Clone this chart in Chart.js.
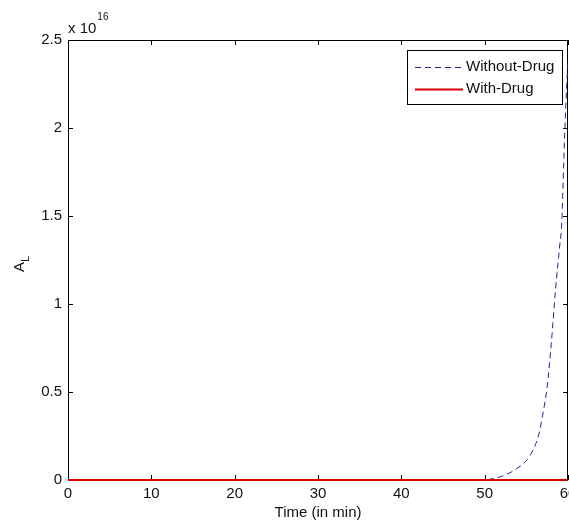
<!DOCTYPE html>
<html>
<head>
<meta charset="utf-8">
<script src="https://cdn.jsdelivr.net/npm/chart.js@4/dist/chart.umd.min.js"></script>
<style>
  html, body { margin: 0; padding: 0; background: #ffffff; }
  canvas { display: block; }
</style>
</head>
<body>
<canvas id="c" width="569" height="527"></canvas>
<script>
// ---- data (values in units of 1e16) ----
const timeMin = [0, 10, 20, 30, 40, 50, 51, 52, 53, 54, 55, 56, 56.5, 57, 57.5, 58, 58.5, 59, 59.25, 59.5, 59.75, 60];
const withoutDrug = [0, 0, 0, 0, 0, 0, 0.008, 0.02, 0.04, 0.07, 0.11, 0.19, 0.26, 0.38, 0.53, 0.78, 1.08, 1.33, 1.46, 1.82, 2.15, 2.38];
const withDrug = [0, 0, 0, 0, 0, 0, 0, 0, 0, 0, 0, 0, 0, 0, 0, 0, 0, 0, 0, 0, 0, 0];
const seriesLabels = ['Without-Drug', 'With-Drug'];
const yTickValues = [0, 0.5, 1, 1.5, 2, 2.5];
const yTickLabels = ['0', '0.5', '1', '1.5', '2', '2.5'];
const xTitle = 'Time (in min)';
const yTitleMain = 'A';
const yTitleSub = 'L';
const multiplierBase = 'x 10';
const multiplierExp = '16';

const FONT = "'Liberation Sans', Arial, sans-serif";
const TXT = '#111111';

const toXY = (xs, ys) => xs.map((x, i) => ({ x: x, y: ys[i] }));

const matlabBox = {
  id: 'matlabBox',
  beforeDatasetsDraw(chart) {
    const ctx = chart.ctx;
    const a = chart.chartArea;
    const xs = chart.scales.x, ys = chart.scales.y;
    ctx.save();
    ctx.strokeStyle = '#000';
    ctx.lineWidth = 1;
    ctx.strokeRect(Math.round(a.left) + 0.5, Math.round(a.top) + 0.5,
      Math.round(a.right - a.left) - 1, Math.round(a.bottom - a.top) - 1);
    const L = 5;
    ctx.beginPath();
    xs.ticks.forEach(t => {
      const px = Math.round(xs.getPixelForValue(t.value)) + 0.5;
      ctx.moveTo(px, a.bottom); ctx.lineTo(px, a.bottom - L);
      ctx.moveTo(px, a.top); ctx.lineTo(px, a.top + L);
    });
    ys.ticks.forEach(t => {
      const py = Math.round(ys.getPixelForValue(t.value)) + 0.5;
      ctx.moveTo(a.left, py); ctx.lineTo(a.left + L, py);
      ctx.moveTo(a.right, py); ctx.lineTo(a.right - L, py);
    });
    ctx.stroke();
    ctx.restore();
  },
  afterDraw(chart) {
    const ctx = chart.ctx;
    const a = chart.chartArea;
    ctx.save();
    ctx.fillStyle = TXT;
    ctx.textAlign = 'left';
    ctx.textBaseline = 'alphabetic';
    ctx.font = '15px ' + FONT;
    ctx.fillText(multiplierBase, a.left, a.top - 7);
    const w = ctx.measureText(multiplierBase).width;
    ctx.font = '10px ' + FONT;
    ctx.fillText(multiplierExp, a.left + w + 1, a.top - 20);

    ctx.save();
    ctx.translate(24, 272);
    ctx.rotate(-Math.PI / 2);
    ctx.font = '15px ' + FONT;
    ctx.fillText(yTitleMain, 0, 0);
    const aw = ctx.measureText(yTitleMain).width;
    ctx.font = '11px ' + FONT;
    ctx.fillText(yTitleSub, aw, 5);
    ctx.restore();

    const lx = 407, ly = 50, lw = 155, lh = 54;
    ctx.fillStyle = '#fff';
    ctx.fillRect(lx, ly, lw, lh);
    ctx.strokeStyle = '#000';
    ctx.lineWidth = 1;
    ctx.strokeRect(lx + 0.5, ly + 0.5, lw, lh);
    const rows = [67, 89];
    chart.data.datasets.forEach((ds, i) => {
      const y = rows[i];
      ctx.save();
      ctx.strokeStyle = ds.borderColor;
      ctx.lineWidth = ds.borderWidth;
      ctx.setLineDash(ds.borderDash || []);
      ctx.beginPath();
      ctx.moveTo(415, y + 0.5);
      ctx.lineTo(463, y + 0.5);
      ctx.stroke();
      ctx.restore();
      ctx.fillStyle = TXT;
      ctx.font = '15px ' + FONT;
      ctx.textBaseline = 'middle';
      ctx.textAlign = 'left';
      ctx.fillText(ds.label, 466, y);
    });
    ctx.restore();
  }
};

new Chart(document.getElementById('c'), {
  type: 'line',
  data: {
    datasets: [
      {
        label: seriesLabels[0],
        data: toXY(timeMin, withoutDrug),
        borderColor: '#22229c',
        borderWidth: 1,
        borderDash: [6, 4],
        pointRadius: 0,
        cubicInterpolationMode: 'monotone',
        fill: false,
        order: 2
      },
      {
        label: seriesLabels[1],
        data: toXY(timeMin, withDrug),
        borderColor: '#d80000',
        borderWidth: 2,
        pointRadius: 0,
        fill: false,
        clip: false,
        order: 1
      }
    ]
  },
  options: {
    responsive: false,
    animation: false,
    layout: { padding: { left: 0, right: 1, top: 40, bottom: 0 } },
    plugins: { legend: { display: false }, tooltip: { enabled: false } },
    scales: {
      x: {
        type: 'linear',
        min: 0, max: 60,
        border: { display: false },
        grid: { display: false, drawTicks: false },
        ticks: { stepSize: 10, padding: 5, color: TXT, font: { family: FONT, size: 15 }, maxRotation: 0 },
        title: { display: true, text: xTitle, color: TXT, font: { family: FONT, size: 15 }, padding: { top: 0, bottom: 5 } },
        afterFit(s) { s.height = 47; s.paddingLeft = 0; s.paddingRight = 0; }
      },
      y: {
        type: 'linear',
        min: 0, max: 2.5,
        border: { display: false },
        grid: { display: false, drawTicks: false },
        ticks: {
          stepSize: 0.5, padding: 6, color: TXT, font: { family: FONT, size: 15 },
          callback(v) { const i = yTickValues.indexOf(v); return i >= 0 ? yTickLabels[i] : ''; }
        },
        afterFit(s) { s.width = 68; s.paddingTop = 0; s.paddingBottom = 0; }
      }
    }
  },
  plugins: [matlabBox]
});
</script>
</body>
</html>
